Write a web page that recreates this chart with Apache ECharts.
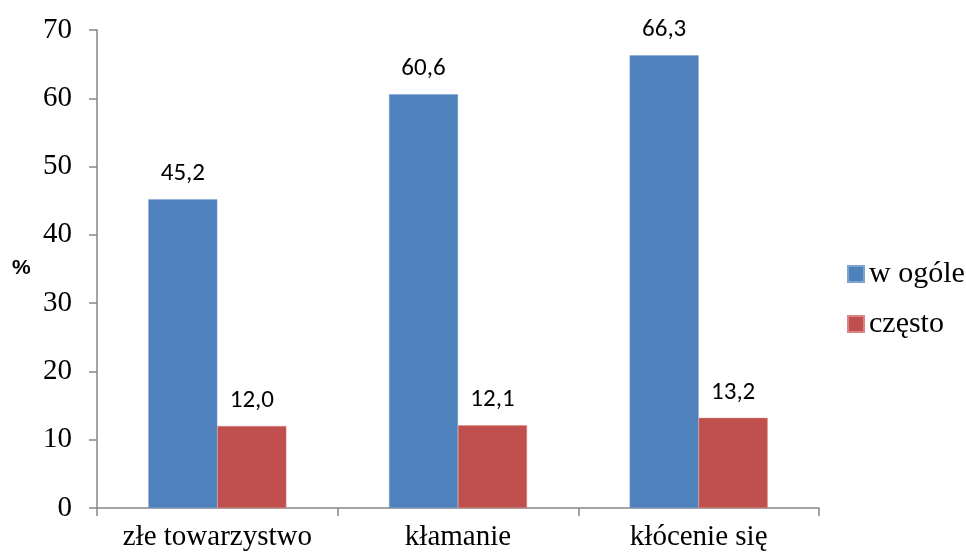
<!DOCTYPE html>
<html><head><meta charset="utf-8">
<script src="https://cdn.jsdelivr.net/npm/echarts@6/dist/echarts.min.js"></script>
<style>html,body{margin:0;padding:0;background:#fff}#c{width:966px;height:556px}</style>
</head><body><div id="c"></div>
<script>
const categories = ['złe towarzystwo', 'kłamanie', 'kłócenie się'];
const seriesNames = ['w ogóle', 'często'];
const wOgole = [45.2, 60.6, 66.3];
const czesto = [12.0, 12.1, 13.2];
const yTicks = [0, 10, 20, 30, 40, 50, 60, 70];

const chart = echarts.init(document.getElementById('c'));
const lbl = {
  show: true, position: 'top', distance: 13,
  fontFamily: 'Carlito, "Open Sans", sans-serif', fontSize: 25, color: '#000',
  formatter: p => p.value.toFixed(1).replace('.', ',')
};
const serif = '"Liberation Serif", "Times New Roman", serif';
chart.setOption({
  animation: false,
  grid: { left: 97, right: 147, top: 30, bottom: 48 },
  legend: {
    orient: 'vertical', left: 842, top: 254, itemGap: 20,
    itemWidth: 16, itemHeight: 16, icon: 'rect',
    textStyle: { fontFamily: serif, fontSize: 30, color: '#000' },
    data: seriesNames
  },
  graphic: [{ type: 'text', left: 12, top: 258, style: { text: '%', font: 'bold 21px "Liberation Sans", Arial, sans-serif', fill: '#000' } }],
  xAxis: {
    type: 'category', data: categories,
    axisLine: { lineStyle: { color: '#868686', width: 1.5 } },
    axisTick: { show: true, interval: 0, length: 8, lineStyle: { color: '#868686', width: 1.5 } },
    axisLabel: { interval: 0, hideOverlap: false, fontFamily: serif, fontSize: 29, color: '#000', margin: 15 }
  },
  yAxis: {
    type: 'value', min: 0, max: 70, interval: 10,
    axisLine: { show: true, lineStyle: { color: '#868686', width: 1.5 } },
    axisTick: { show: true, length: 8, lineStyle: { color: '#868686', width: 1.5 } },
    splitLine: { show: false },
    axisLabel: { fontFamily: serif, fontSize: 29, color: '#000', margin: 25,
      formatter: v => yTicks.includes(v) ? String(v) : '' }
  },
  series: [
    { name: seriesNames[0], type: 'bar', data: wOgole, barWidth: 69, barGap: '0%',
      itemStyle: { color: '#4F81BD', borderColor: '#7fa3d1', borderWidth: 0.5 }, label: lbl },
    { name: seriesNames[1], type: 'bar', data: czesto, barWidth: 69, barGap: '0%',
      itemStyle: { color: '#C0504D', borderColor: '#d98583', borderWidth: 0.5 }, label: lbl }
  ]
});
</script></body></html>
